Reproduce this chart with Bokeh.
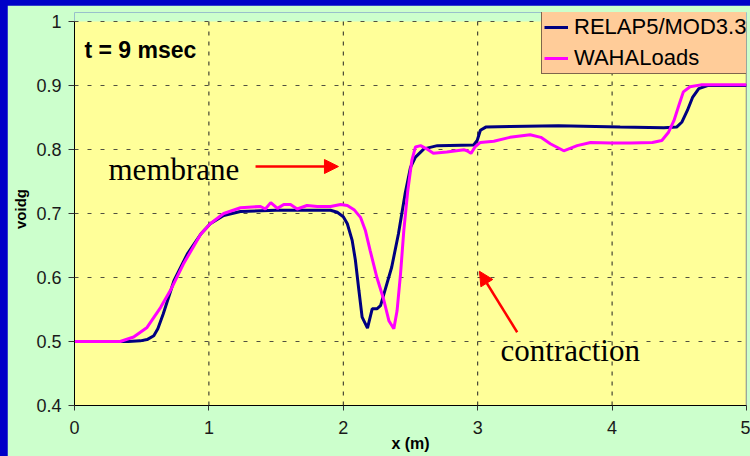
from bokeh.plotting import figure
from bokeh.layouts import column
from bokeh.models import Label, Arrow, NormalHead, Legend, LegendItem, FixedTicker
from bokeh.embed import file_html
from bokeh.resources import INLINE

# Void fraction profiles along the pipe at t = 9 msec
relap_x = [0.0, 0.4, 0.49, 0.54, 0.59, 0.62, 0.66, 0.74, 0.84, 0.94, 1.01, 1.11, 1.235, 1.5,
           1.905, 1.955, 2.0, 2.03, 2.066, 2.09, 2.116, 2.14, 2.18, 2.215, 2.25,
           2.277, 2.31, 2.36, 2.41, 2.46, 2.5, 2.537, 2.6, 2.7, 2.97, 2.996, 3.02,
           3.06, 3.24, 3.6, 4.06, 4.385, 4.48, 4.52, 4.56, 4.6, 4.645, 4.71, 5.0]
relap_y = [0.5, 0.5, 0.501, 0.503, 0.509, 0.52, 0.543, 0.595, 0.637, 0.668, 0.684, 0.697, 0.703, 0.705,
           0.705, 0.702, 0.695, 0.684, 0.658, 0.627, 0.58, 0.538, 0.521, 0.551, 0.551,
           0.556, 0.58, 0.616, 0.668, 0.731, 0.772, 0.788, 0.801, 0.806, 0.807, 0.814, 0.83,
           0.835, 0.836, 0.837, 0.835, 0.834, 0.835, 0.843, 0.861, 0.882, 0.895, 0.9, 0.9]

waha_x = [0.0, 0.34, 0.44, 0.54, 0.64, 0.714, 0.81, 0.94, 1.01, 1.11, 1.235, 1.384,
          1.42, 1.46, 1.51, 1.557, 1.607, 1.657, 1.73, 1.806, 1.905, 1.98, 2.03, 2.08,
          2.128, 2.165, 2.2, 2.25, 2.3, 2.34, 2.376, 2.4, 2.426, 2.45, 2.48, 2.51, 2.537,
          2.575, 2.62, 2.67, 2.77, 2.9, 2.92, 2.95, 2.98, 3.02, 3.12, 3.24, 3.39, 3.47,
          3.54, 3.64, 3.74, 3.84, 3.99, 4.14, 4.3, 4.37, 4.42, 4.46, 4.5, 4.53, 4.58,
          4.66, 5.0]
waha_y = [0.5, 0.5, 0.507, 0.522, 0.553, 0.58, 0.621, 0.668, 0.684, 0.7, 0.709, 0.711,
          0.707, 0.717, 0.708, 0.714, 0.714, 0.707, 0.7125, 0.711, 0.711, 0.714, 0.7125, 0.706,
          0.694, 0.673, 0.642, 0.6, 0.566, 0.532, 0.52, 0.548, 0.606, 0.673, 0.736, 0.783, 0.804,
          0.806, 0.801, 0.794, 0.796, 0.7995, 0.798, 0.794, 0.804, 0.811, 0.813, 0.819, 0.823, 0.819,
          0.809, 0.798, 0.806, 0.811, 0.81, 0.81, 0.811, 0.814, 0.827, 0.845, 0.871, 0.89, 0.898,
          0.901, 0.901]

x_ticks = [0, 1, 2, 3, 4, 5]
y_ticks = [0.4, 0.5, 0.6, 0.7, 0.8, 0.9, 1.0]
series_names = ["RELAP5/MOD3.3", "WAHALoads"]

SANS = "Liberation Sans"
SERIF = "Liberation Serif"
PLOT_BG = "#FFFF99"
PAGE_BG = "#CCFFCC"

X_MIN, X_MAX = 0, 5
Y_MIN, Y_MAX = 0.4, 1.0
# the frame reaches a little above y = 1 so that the legend box can overhang the plot area
Y_TOP = Y_MAX + 9 / 640

p = figure(width=743, height=451, x_range=(X_MIN, X_MAX), y_range=(Y_MIN, Y_TOP),
           output_backend="svg", toolbar_location=None,
           min_border_left=67, min_border_right=4, min_border_top=7, min_border_bottom=51)
p.margin = (5, 0, 0, 7)
p.background_fill_color = PAGE_BG
p.border_fill_color = PAGE_BG
p.outline_line_color = None
p.grid.grid_line_color = None

# axes
p.xaxis.ticker = FixedTicker(ticks=x_ticks)
p.yaxis.ticker = FixedTicker(ticks=y_ticks)
p.yaxis.bounds = (Y_MIN, Y_MAX)
p.yaxis.major_label_overrides = {1.0: "1"}
for ax in (p.xaxis[0], p.yaxis[0]):
    ax.axis_line_color = "black"
    ax.major_tick_line_color = "#333333"
    ax.major_tick_in = 0
    ax.minor_tick_line_color = None
    ax.major_label_text_font = SANS
    ax.major_label_text_font_size = "18px"
    ax.major_label_text_color = "#1a1a1a"
    ax.axis_label_text_font = SANS
    ax.axis_label_text_font_style = "bold"
    ax.axis_label_text_color = "black"
p.xaxis.major_tick_out = 5
p.xaxis.major_label_standoff = 10
p.xaxis.axis_label = "x (m)"
p.xaxis.axis_label_text_font_size = "16px"
p.xaxis.axis_label_standoff = -2
p.yaxis.major_tick_out = 6
p.yaxis.major_label_standoff = 7
p.yaxis.axis_label = "voidg"
p.yaxis.axis_label_text_font_size = "15px"
p.yaxis.axis_label_standoff = 4

# plot area (y from 0.4 to 1)
p.quad(left=[X_MIN], right=[X_MAX], bottom=[Y_MIN], top=[Y_MAX],
       fill_color=PLOT_BG, fill_alpha=1, line_color=None)

# dashed grid limited to the plot area
inner_x = x_ticks[1:-1]
p.segment(x0=inner_x, y0=[Y_MIN] * len(inner_x), x1=inner_x, y1=[Y_MAX] * len(inner_x),
          line_color="#202020", line_width=1, line_dash="4 6")
inner_y = y_ticks[1:]
p.segment(x0=[X_MIN] * len(inner_y), y0=inner_y, x1=[X_MAX] * len(inner_y), y1=inner_y,
          line_color="#505040", line_width=1, line_dash="4 9")
# right edge of the plot area
p.segment(x0=[X_MAX], y0=[Y_MIN], x1=[X_MAX], y1=[Y_MAX], line_color="#808080", line_width=1.5)

r1 = p.line(relap_x, relap_y, line_color="#000080", line_width=3)
r2 = p.line(waha_x, waha_y, line_color="#FF00FF", line_width=3)

legend = Legend(items=[LegendItem(label=series_names[0], renderers=[r1]),
                       LegendItem(label=series_names[1], renderers=[r2])],
                location=(467, 331))
legend.background_fill_color = "#FFCC99"
legend.background_fill_alpha = 1
legend.border_line_color = "black"
legend.border_line_width = 1
legend.label_text_font = SANS
legend.label_text_font_size = "22px"
legend.label_text_color = "black"
legend.padding = 2
legend.margin = 0
legend.spacing = 5
legend.label_height = 24
legend.glyph_height = 24
legend.glyph_width = 24
legend.label_standoff = 6
p.add_layout(legend)

p.add_layout(Label(x=0.074, y=0.9358, text="t = 9 msec", text_font=SANS,
                   text_font_size="23px", text_font_style="bold", text_color="black"))
p.add_layout(Label(x=0.253, y=0.7414, text="membrane", text_font=SERIF,
                   text_font_size="31px", text_color="black"))
p.add_layout(Label(x=3.17, y=0.458, text="contraction", text_font=SERIF,
                   text_font_size="31px", text_color="black"))

p.add_layout(Arrow(end=NormalHead(size=14, fill_color="#FF0000", line_color="#FF0000"),
                   x_start=1.347, y_start=0.7734, x_end=1.964, y_end=0.7734,
                   line_color="#FF0000", line_width=2.5))
p.add_layout(Arrow(end=NormalHead(size=14, fill_color="#FF0000", line_color="#FF0000"),
                   x_start=3.294, y_start=0.5145, x_end=3.013, y_end=0.6098,
                   line_color="#FF0000", line_width=2.5))

page = column(p, styles={"background-color": "#0000C8"})
open("out.html", "w").write(file_html(page, INLINE))
